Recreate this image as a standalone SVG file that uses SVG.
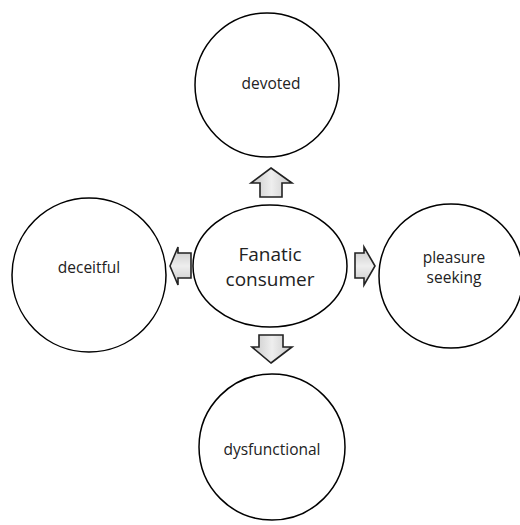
<svg xmlns="http://www.w3.org/2000/svg" width="520" height="525" viewBox="0 0 520 525">
<defs>
<style>
.c{fill:#fff;stroke:#000;stroke-width:1.5}
.t{font-family:"Open Sans","Noto Sans",sans-serif;font-size:15.5px;fill:#222;text-anchor:middle}
.big{font-size:19px}
.a{stroke:#222;stroke-width:1.6;stroke-linejoin:miter}
</style>
<linearGradient id="gv" x1="0" y1="0" x2="1" y2="0">
<stop offset="0" stop-color="#c8c8c8"/><stop offset="0.5" stop-color="#eeeeee"/><stop offset="1" stop-color="#c8c8c8"/>
</linearGradient>
<linearGradient id="gh" x1="0" y1="0" x2="0" y2="1">
<stop offset="0" stop-color="#c8c8c8"/><stop offset="0.5" stop-color="#eeeeee"/><stop offset="1" stop-color="#c8c8c8"/>
</linearGradient>
</defs>
<rect width="520" height="525" fill="#fff"/>
<g id="devoted"><circle class="c" cx="267" cy="85" r="72"/><text class="t" x="271" y="89">devoted</text></g>
<g id="deceitful"><circle class="c" cx="89" cy="275" r="77"/><text class="t" x="89" y="273">deceitful</text></g>
<g id="pleasure"><circle class="c" cx="451" cy="276" r="72"/><text class="t" x="454" y="263">pleasure</text><text class="t" x="454" y="283">seeking</text></g>
<g id="dysfunctional"><circle class="c" cx="272" cy="447" r="73"/><text class="t" x="272" y="455">dysfunctional</text></g>
<g id="fanatic"><ellipse class="c" cx="270" cy="266" rx="77" ry="61"/><text class="t big" x="270" y="261">Fanatic</text><text class="t big" x="270" y="286">consumer</text></g>
<g id="connectors">
<path class="a" fill="url(#gv)" d="M271,168 L292,183 L282,183 L282,197 L260,197 L260,183 L251,183 Z"/>
<path class="a" fill="url(#gh)" d="M170,266 L178,247 L178,253 L191,253 L191,278 L178,278 L178,285 Z"/>
<path class="a" fill="url(#gh)" d="M375,266 L364,247 L364,253 L355,253 L355,278 L364,278 L364,285 Z"/>
<path class="a" fill="url(#gv)" d="M271,363 L292,347 L283,347 L283,335 L259,335 L259,347 L252,347 Z"/>
</g>
</svg>
